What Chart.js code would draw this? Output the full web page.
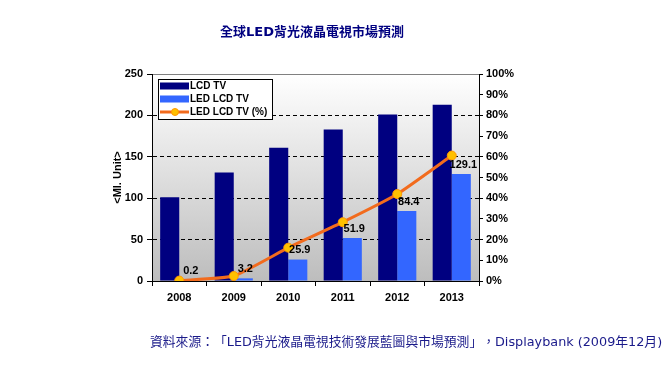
<!DOCTYPE html>
<html>
<head>
<meta charset="utf-8">
<script src="https://cdn.jsdelivr.net/npm/chart.js@4"></script>
<style>
  html, body { margin:0; padding:0; background:#fff; }
  #wrap { position:relative; width:667px; height:371px; overflow:hidden; }
  #chart { position:absolute; left:0; top:0; }
  .title { position:absolute; left:220px; top:21px; font:bold 13px "DejaVu Sans","Noto Sans CJK TC"; color:#000080; white-space:nowrap; text-spacing-trim: space-all; }
  .src { position:absolute; left:150px; top:331px; font:12.8px "DejaVu Sans","Noto Sans CJK TC"; color:#1a1a8a; white-space:nowrap; text-spacing-trim: space-all; }
</style>
</head>
<body>
<div id="wrap">
  <canvas id="chart" width="667" height="371"></canvas>
  <div class="title">全球LED背光液晶電視市場預測</div>
  <div class="src">資料來源：「LED背光液晶電視技術發展藍圖與市場預測」，Displaybank (2009年12月)</div>
</div>
<script>
const years     = ['2008', '2009', '2010', '2011', '2012', '2013'];
const lcdTv     = [101, 131, 161, 183, 201, 213];
const ledLcdTv  = [0.2, 3.2, 25.9, 51.9, 84.4, 129.1];
const ledShare  = [0.2, 2.4, 16.1, 28.4, 42.0, 60.6];   // %
const unitTicks = [0, 50, 100, 150, 200, 250];

const tickFont = { family: '"Liberation Sans", Arial', size: 11, weight: 'bold' };

// gradient plot background + grey top line
const plotBg = {
  id: 'plotBg',
  beforeDraw(chart){
    const { ctx, chartArea: a } = chart;
    const g = ctx.createLinearGradient(0, a.top, 0, a.bottom);
    g.addColorStop(0, '#ffffff');
    g.addColorStop(1, '#bdbdbd');
    ctx.save();
    ctx.fillStyle = g;
    ctx.fillRect(a.left, a.top, a.right - a.left, a.bottom - a.top);
    ctx.strokeStyle = '#808080';
    ctx.lineWidth = 1;
    ctx.beginPath();
    ctx.moveTo(a.left, a.top + 0.5);
    ctx.lineTo(a.right, a.top + 0.5);
    ctx.stroke();
    ctx.restore();
  }
};

// value labels above the LED bars
const barLabels = {
  id: 'barLabels',
  afterDatasetsDraw(chart){
    const { ctx } = chart;
    const meta = chart.getDatasetMeta(1);
    ctx.save();
    ctx.font = 'bold 11px "Liberation Sans", Arial';
    ctx.fillStyle = '#000';
    ctx.textAlign = 'center';
    ctx.textBaseline = 'bottom';
    meta.data.forEach((bar, i) => {
      ctx.fillText(String(ledLcdTv[i]), bar.x + 2, bar.y - 4);
    });
    ctx.restore();
  }
};

// legend box in the upper left of the plot
const boxLegend = {
  id: 'boxLegend',
  afterDraw(chart){
    const { ctx } = chart;
    const ds = chart.data.datasets;
    const x0 = 158, y0 = 79, w = 114, h = 40;
    ctx.save();
    ctx.fillStyle = '#fff';
    ctx.fillRect(x0, y0, w, h);
    ctx.strokeStyle = '#000';
    ctx.lineWidth = 1;
    ctx.strokeRect(x0 + 0.5, y0 + 0.5, w, h);
    ctx.font = 'bold 10px "Liberation Sans", Arial';
    ctx.textBaseline = 'middle';
    const rows = [86, 99, 112];
    ds.forEach((d, i) => {
      const y = rows[i];
      if (d.type === 'line'){
        ctx.strokeStyle = d.borderColor;
        ctx.lineWidth = 3;
        ctx.beginPath();
        ctx.moveTo(160, y); ctx.lineTo(189, y);
        ctx.stroke();
        ctx.fillStyle = d.pointBackgroundColor;
        ctx.strokeStyle = d.pointBorderColor;
        ctx.lineWidth = 1;
        ctx.beginPath();
        ctx.arc(175, y, 3.5, 0, Math.PI * 2);
        ctx.fill(); ctx.stroke();
      } else {
        ctx.fillStyle = d.backgroundColor;
        ctx.fillRect(160, y - 3.5, 29, 7);
      }
      ctx.fillStyle = '#000';
      ctx.fillText(d.label, 190, y + 0.5);
    });
    ctx.restore();
  }
};

new Chart(document.getElementById('chart'), {
  data: {
    labels: years,
    datasets: [
      { type: 'bar', label: 'LCD TV', data: lcdTv, backgroundColor: '#000080', yAxisID: 'y', order: 2,
        categoryPercentage: 0.7, barPercentage: 1.0 },
      { type: 'bar', label: 'LED LCD TV', data: ledLcdTv, backgroundColor: '#3366ff', yAxisID: 'y', order: 2,
        categoryPercentage: 0.7, barPercentage: 1.0 },
      { type: 'line', label: 'LED LCD TV (%)', data: ledShare, yAxisID: 'y1', order: 1,
        borderColor: '#f26b1d', borderWidth: 3, tension: 0.15,
        pointRadius: 4.5, pointBackgroundColor: '#ffc000', pointBorderColor: '#ff9900', pointBorderWidth: 1 }
    ]
  },
  options: {
    responsive: false,
    animation: false,
    layout: { padding: { left: 111, right: 148, top: 74, bottom: 60 } },
    plugins: { legend: { display: false }, tooltip: { enabled: false } },
    scales: {
      x: {
        offset: true,
        grid: { offset: true, drawOnChartArea: false, color: '#000', tickLength: 5 },
        border: { color: '#000' },
        ticks: { color: '#000', font: tickFont, padding: 5 },
        afterFit(s){ s.height = 30; }
      },
      y: {
        position: 'left', min: 0, max: 250,
        afterBuildTicks(s){ s.ticks = unitTicks.map(v => ({ value: v })); },
        grid: {
          color: c => (c.tick && (c.tick.value === 0 || c.tick.value === 250)) ? 'rgba(0,0,0,0)' : '#000',
          tickColor: '#000', tickLength: 5
        },
        border: { color: '#000', dash: [4, 3] },
        ticks: { color: '#000', font: tickFont, padding: 4 },
        title: { display: true, text: '<Ml. Unit>', color: '#000', font: tickFont, padding: 0 },
        afterFit(s){ s.width = 41; }
      },
      y1: {
        position: 'right', min: 0, max: 100,
        ticks: { stepSize: 10, color: '#000', font: tickFont, padding: 3, callback: v => v + '%' },
        grid: { drawOnChartArea: false, color: '#000', tickLength: 4 },
        border: { color: '#000' },
        afterFit(s){ s.width = 40; }
      }
    }
  },
  plugins: [plotBg, barLabels, boxLegend]
});
</script>
</body>
</html>
